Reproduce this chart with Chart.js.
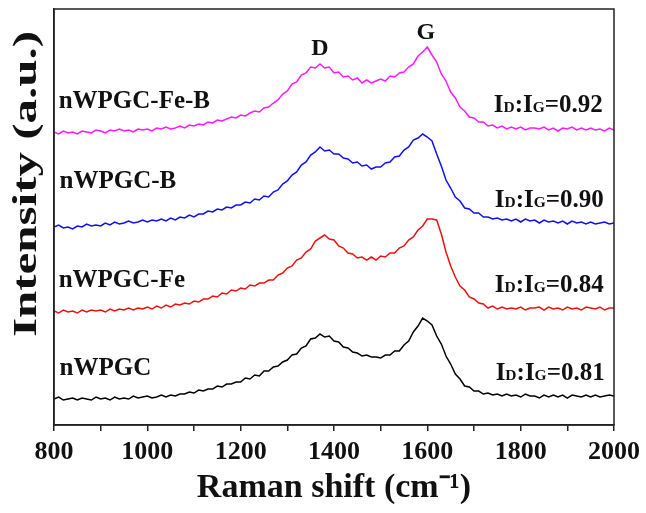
<!DOCTYPE html>
<html>
<head>
<meta charset="utf-8">
<script src="https://cdn.jsdelivr.net/npm/chart.js@4.4.1/dist/chart.umd.min.js"></script>
<style>
body { margin: 0; background: #fff; }
</style>
</head>
<body>
<canvas id="chart" width="646" height="513"></canvas>
<script>
var serif = "'Times New Roman', 'Liberation Serif', serif";

//raman shift (cm-1), one point every 10
var shift = [
  800, 810, 820, 830, 840, 850, 860, 870, 880, 890,
  900, 910, 920, 930, 940, 950, 960, 970, 980, 990,
  1000, 1010, 1020, 1030, 1040, 1050, 1060, 1070, 1080, 1090,
  1100, 1110, 1120, 1130, 1140, 1150, 1160, 1170, 1180, 1190,
  1200, 1210, 1220, 1230, 1240, 1250, 1260, 1270, 1280, 1290,
  1300, 1310, 1320, 1330, 1340, 1350, 1360, 1370, 1380, 1390,
  1400, 1410, 1420, 1430, 1440, 1450, 1460, 1470, 1480, 1490,
  1500, 1510, 1520, 1530, 1540, 1550, 1560, 1570, 1580, 1590,
  1600, 1610, 1620, 1630, 1640, 1650, 1660, 1670, 1680, 1690,
  1700, 1710, 1720, 1730, 1740, 1750, 1760, 1770, 1780, 1790,
  1800, 1810, 1820, 1830, 1840, 1850, 1860, 1870, 1880, 1890,
  1900, 1910, 1920, 1930, 1940, 1950, 1960, 1970, 1980, 1990,
  2000
];

//intensities (a.u.), spectra already stacked with their offsets
var nWPGC_Fe_B = [
  293, 291, 294, 292, 293, 291, 294, 293, 292, 295,
  294, 292, 295, 294, 296, 294, 295, 293, 296, 295,
  296, 294, 297, 296, 298, 296, 297, 299, 297, 300,
  299, 301, 300, 303, 302, 305, 304, 306, 308, 307,
  310, 309, 312, 314, 313, 317, 318, 322, 325, 331,
  334, 341, 343, 350, 352, 358, 357, 361, 357, 358,
  352, 353, 348, 349, 345, 347, 342, 345, 342, 344,
  346, 344, 349, 348, 352, 353, 358, 361, 369, 373,
  378, 370, 363, 351, 344, 333, 327, 318, 314, 308,
  307, 303, 303, 299, 300, 297, 299, 296, 298, 296,
  298, 295, 297, 297, 296, 298, 295, 297, 294, 297,
  296, 298, 295, 297, 295, 297, 295, 296, 294, 297,
  295
];

var nWPGC_B = [
  198, 200, 197, 198, 196, 199, 198, 201, 199, 200,
  199, 202, 200, 203, 201, 202, 204, 202, 203, 205,
  203, 205, 204, 206, 204, 207, 205, 208, 207, 210,
  208, 211, 211, 214, 213, 216, 215, 218, 217, 220,
  220, 223, 222, 226, 225, 229, 228, 233, 235, 241,
  244, 250, 253, 260, 263, 270, 273, 278, 274, 275,
  271, 271, 267, 266, 262, 263, 259, 260, 256, 258,
  258, 262, 263, 268, 269, 275, 278, 285, 287, 291,
  288, 284, 271, 259, 245, 237, 228, 224, 217, 216,
  212, 212, 208, 208, 206, 207, 205, 206, 204, 206,
  203, 206, 204, 205, 202, 205, 203, 204, 202, 204,
  201, 204, 202, 203, 201, 203, 201, 202, 203, 201,
  202
];

var nWPGC_Fe = [
  114, 112, 115, 113, 114, 112, 115, 113, 115, 114,
  115, 113, 116, 114, 116, 115, 117, 115, 117, 116,
  118, 116, 119, 117, 120, 118, 121, 120, 122, 121,
  124, 123, 126, 126, 129, 128, 132, 131, 135, 134,
  137, 136, 140, 139, 142, 142, 145, 145, 150, 152,
  157, 159, 165, 167, 173, 176, 184, 187, 190, 186,
  185, 179, 177, 172, 171, 167, 168, 165, 168, 165,
  169, 168, 172, 172, 177, 179, 185, 188, 195, 199,
  206, 206, 205, 191, 173, 159, 148, 139, 135, 128,
  126, 122, 121, 117, 119, 116, 118, 116, 117, 116,
  118, 115, 117, 117, 118, 115, 118, 116, 117, 115,
  118, 116, 117, 115, 118, 117, 116, 118, 115, 117,
  117
];

var nWPGC = [
  26, 28, 25, 26, 27, 25, 27, 26, 25, 28,
  26, 27, 25, 28, 26, 27, 26, 29, 27, 28,
  29, 27, 28, 30, 28, 30, 29, 31, 31, 33,
  32, 35, 34, 36, 36, 39, 38, 41, 41, 43,
  43, 47, 46, 50, 49, 54, 54, 58, 59, 63,
  65, 70, 71, 77, 79, 86, 87, 91, 88, 89,
  84, 83, 78, 77, 73, 72, 69, 70, 68, 68,
  67, 70, 70, 74, 74, 80, 84, 93, 99, 107,
  104, 100, 89, 81, 69, 61, 51, 46, 39, 38,
  34, 34, 31, 32, 30, 31, 29, 31, 29, 30,
  28, 31, 29, 29, 27, 30, 28, 30, 28, 30,
  27, 30, 29, 28, 30, 28, 30, 28, 29, 30,
  29
];

var sampleNames = ['nWPGC-Fe-B', 'nWPGC-B', 'nWPGC-Fe', 'nWPGC'];
var ratios = ['0.92', '0.90', '0.84', '0.81'];
var spectra = [nWPGC_Fe_B, nWPGC_B, nWPGC_Fe, nWPGC];
var lineColors = ['#ff1aff', '#1010f0', '#f01010', '#000000'];

//where the texts sit, in data units
var namePos = [{x: 810, y: 325}, {x: 812, y: 245}, {x: 810, y: 146}, {x: 812, y: 58}];
var ratioPos = [{x: 1976, y: 321}, {x: 1978, y: 226}, {x: 1978, y: 141}, {x: 1980, y: 53}];
var bands = [{text: 'D', x: 1370, y: 378}, {text: 'G', x: 1597, y: 394}];

//y scale whose rotated title is stretched along its length, like the original
class StretchedScale extends Chart.LinearScale {
  drawTitle() {
    var ctx = this.ctx;
    var mid = (this.top + this.bottom) / 2;
    ctx.save();
    ctx.translate(0, mid - 33);
    ctx.scale(1, 1.44);
    ctx.translate(0, -mid);
    super.drawTitle();
    ctx.restore();
  }
}
StretchedScale.id = 'stretchedLinear';
StretchedScale.defaults = Chart.LinearScale.defaults;
Chart.register(StretchedScale);

//sample names, ratios and band letters
var annotations = {
  id: 'annotations',
  afterDatasetsDraw: function(chart) {
    var ctx = chart.ctx;
    var xs = chart.scales.x;
    var ys = chart.scales.y;
    ctx.save();
    ctx.fillStyle = '#111';
    ctx.textBaseline = 'alphabetic';

    ctx.textAlign = 'left';
    ctx.font = 'bold 25px ' + serif;
    sampleNames.forEach(function(name, i) {
      ctx.fillText(name, xs.getPixelForValue(namePos[i].x), ys.getPixelForValue(namePos[i].y) + 8);
    });

    ratios.forEach(function(r, i) {
      var parts = [['I', 25], ['D', 15.5], [':', 25], ['I', 25], ['G', 15.5], ['=' + r, 25]];
      var total = 0;
      parts.forEach(function(p) {
        ctx.font = 'bold ' + p[1] + 'px ' + serif;
        total += ctx.measureText(p[0]).width;
      });
      var x = xs.getPixelForValue(ratioPos[i].x) - total;
      var y = ys.getPixelForValue(ratioPos[i].y) + 8;
      parts.forEach(function(p) {
        ctx.font = 'bold ' + p[1] + 'px ' + serif;
        ctx.fillText(p[0], x, y);
        x += ctx.measureText(p[0]).width;
      });
    });

    ctx.textAlign = 'center';
    ctx.font = 'bold 24px ' + serif;
    bands.forEach(function(b) {
      ctx.fillText(b.text, xs.getPixelForValue(b.x), ys.getPixelForValue(b.y) + 8);
    });
    ctx.restore();
  }
};

//closed box round the plot
var frame = {
  id: 'frame',
  afterDraw: function(chart) {
    var a = chart.chartArea;
    var ctx = chart.ctx;
    ctx.save();
    ctx.strokeStyle = '#222';
    ctx.lineWidth = 1.5;
    ctx.strokeRect(a.left, a.top, a.right - a.left, a.bottom - a.top);
    ctx.restore();
  }
};

var datasets = spectra.map(function(values, i) {
  return {
    label: sampleNames[i],
    data: shift.map(function(s, j) { return {x: s, y: values[j]}; }),
    borderColor: lineColors[i],
    borderWidth: 1.5,
    pointRadius: 0,
    tension: 0,
    fill: false
  };
});

var chart = new Chart(document.getElementById('chart'), {
  type: 'line',
  data: { datasets: datasets },
  options: {
    responsive: false,
    animation: false,
    layout: { padding: { top: 9, right: 32, left: 0, bottom: 0 } },
    plugins: {
      legend: { display: false },
      tooltip: { enabled: false }
    },
    scales: {
      x: {
        type: 'linear',
        min: 800,
        max: 2000,
        ticks: {
          stepSize: 100,
          autoSkip: false,
          maxRotation: 0,
          padding: 5,
          color: '#111',
          font: { family: serif, size: 26, weight: 'bold', lineHeight: 1.23 },
          callback: function(v) { return v % 200 === 0 ? String(v) : ''; }
        },
        grid: { drawOnChartArea: false, drawTicks: true, tickLength: 6, color: '#222', lineWidth: 1.5 },
        border: { color: '#222', width: 1.5 },
        title: {
          display: true,
          text: 'Raman shift (cm⁻¹)',
          color: '#111',
          font: { family: serif, size: 34, weight: 'bold', lineHeight: 0.765 },
          padding: { top: 2, bottom: 12 }
        }
      },
      y: {
        type: 'stretchedLinear',
        min: 0,
        max: 416,
        ticks: { display: false },
        grid: { display: false, drawTicks: false },
        border: { color: '#222', width: 1.5 },
        title: {
          display: true,
          text: 'Intensity (a.u.)',
          color: '#111',
          font: { family: serif, size: 34, weight: 'bold', lineHeight: 1 },
          padding: { top: 10, bottom: 10 }
        }
      }
    }
  },
  plugins: [annotations, frame]
});
</script>
</body>
</html>
